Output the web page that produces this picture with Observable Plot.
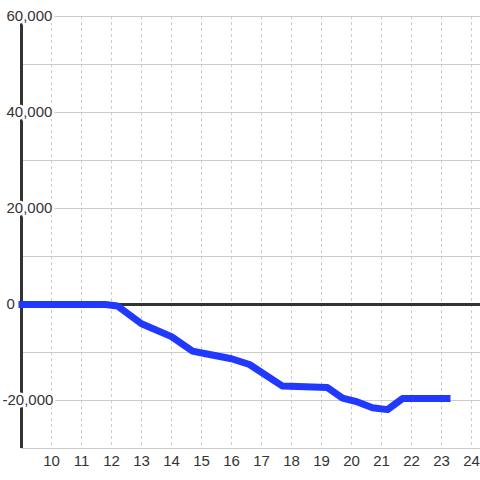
<!DOCTYPE html>
<html><head><meta charset="utf-8">
<script src="https://cdn.jsdelivr.net/npm/d3@7"></script>
<script src="https://cdn.jsdelivr.net/npm/@observablehq/plot@0.6"></script>
<style>body{margin:0;background:#fff}</style>
</head><body><div id="chart"></div>
<script>
const xs = [8.9, 11.8, 12.2, 13.0, 14.0, 14.7, 15.1, 16.0, 16.6, 17.7, 19.2, 19.7, 20.2, 20.7, 21.2, 21.7, 23.3];
const ys = [0, 0, -300, -4000, -6700, -9700, -10200, -11300, -12500, -17000, -17300, -19500, -20300, -21500, -21900, -19600, -19600];
const yTicks = [-20000, 0, 20000, 40000, 60000];
const yGrid = [-30000, -20000, -10000, 0, 10000, 20000, 30000, 40000, 50000, 60000];
const xTicks = [10, 11, 12, 13, 14, 15, 16, 17, 18, 19, 20, 21, 22, 23, 24];
const data = xs.map((x, i) => ({x, y: ys[i]}));
const fmt = d => d.toLocaleString("en-US");
const plot = Plot.plot({
  width: 480, height: 480,
  marginLeft: 21, marginRight: 0, marginTop: 16, marginBottom: 32,
  x: {domain: [9, 24.3]},
  y: {domain: [-30000, 60000], axis: null},
  style: {fontFamily: "Liberation Sans, Arial, sans-serif", fontSize: "15px", color: "#333", background: "#fff"},
  marks: [
    Plot.gridY(yGrid, {stroke: "#ccc", strokeOpacity: 1}),
    Plot.gridX(xTicks, {stroke: "#ccc", strokeOpacity: 1, strokeDasharray: "3,3"}),
    Plot.ruleY([0], {stroke: "#333", strokeWidth: 3}),
    Plot.ruleX([9], {stroke: "#333", strokeWidth: 3}),
    Plot.axisX(xTicks, {tickSize: 0, tickPadding: 7, fill: "#333", label: null}),
    Plot.text(yTicks.filter(d => d >= 0), {y: d => d, text: fmt, frameAnchor: "left", textAnchor: "start", dx: -15, fill: "#333", stroke: "white", strokeWidth: 5}),
    Plot.text(yTicks.filter(d => d < 0), {y: d => d, text: fmt, frameAnchor: "left", textAnchor: "start", dx: -19, fill: "#333", stroke: "white", strokeWidth: 5}),
    Plot.line(data, {x: "x", y: "y", stroke: "#2138ff", strokeWidth: 7, strokeLinejoin: "round", strokeLinecap: "butt"})
  ]
});
document.getElementById("chart").append(plot);
</script>
</body></html>
